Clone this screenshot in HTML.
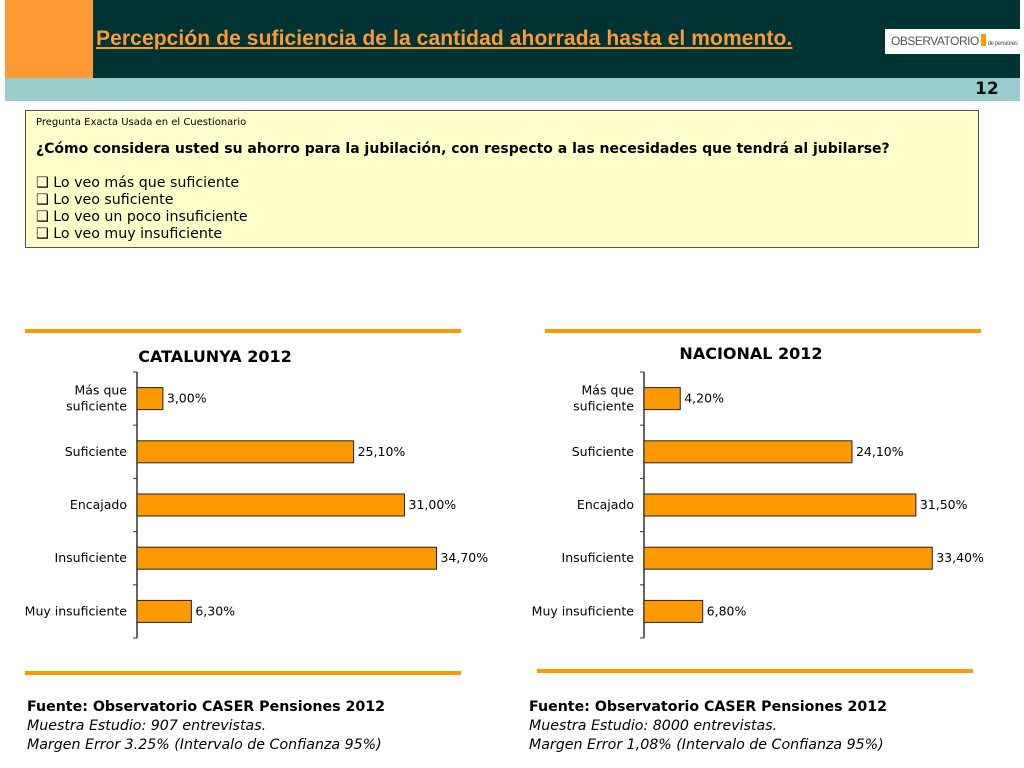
<!DOCTYPE html>
<html><head><meta charset="utf-8"><style>
body{margin:0;width:1024px;height:768px;background:#fff;position:relative;overflow:hidden;font-family:"DejaVu Sans","Liberation Sans",sans-serif}
.abs{position:absolute}
</style></head><body>
<div class="abs" style="left:5px;top:0;width:88px;height:78px;background:#ff9933"></div>
<div class="abs" style="left:93px;top:0;width:927px;height:78px;background:#003333"></div>
<div class="abs" style="left:5px;top:78px;width:1015px;height:23px;background:#99cccc"></div>
<div class="abs" style="left:96px;top:27px;color:#ff9933;font:bold 21px 'Liberation Sans',sans-serif;text-decoration:underline;white-space:nowrap;letter-spacing:0.1px">Percepción de suficiencia de la cantidad ahorrada hasta el momento.</div>
<div class="abs" style="left:885px;top:29px;width:135px;height:25px;background:#fff;font:12px 'Liberation Sans',sans-serif;color:#555;line-height:25px;padding-left:6px;box-sizing:border-box;letter-spacing:-0.5px">OBSERVATORIO<span style="display:inline-block;width:5px;height:12px;background:#f90;margin:0 2px;vertical-align:-1px"></span><span style="font-size:6px">de pensiones</span></div>
<div class="abs" style="left:975px;top:79px;font:bold 17px 'DejaVu Sans',sans-serif;color:#111">12</div>
<div class="abs" style="left:25px;top:110px;width:952px;height:136px;background:#ffffcc;border:1px solid #555;color:#000">
<div style="position:absolute;left:10px;top:6px;font-size:10px">Pregunta Exacta Usada en el Cuestionario</div>
<div style="position:absolute;left:10px;top:30px;font-size:14px;font-weight:bold;white-space:nowrap">¿Cómo considera usted su ahorro para la jubilación, con respecto a las necesidades que tendrá al jubilarse?</div>
<div style="position:absolute;left:10px;top:64px;font-size:14.2px;line-height:17px">❑ Lo veo más que suficiente<br>❑ Lo veo suficiente<br>❑ Lo veo un poco insuficiente<br>❑ Lo veo muy insuficiente</div>
</div>
<div class="abs" style="left:25px;top:329px;width:436px;height:4px;background:#f90"></div>
<div class="abs" style="left:25px;top:671px;width:436px;height:4px;background:#f90"></div>
<div class="abs" style="left:545px;top:329px;width:436px;height:4px;background:#f90"></div>
<div class="abs" style="left:537px;top:669px;width:436px;height:4px;background:#f90"></div>
<svg class="abs" id="charts" style="left:0;top:0" width="1024" height="768"></svg>
<div class="abs" style="left:27px;top:698px;font-size:14.2px;line-height:19px"><b>Fuente: Observatorio CASER Pensiones 2012</b><br><i>Muestra Estudio: 907 entrevistas.</i><br><i>Margen Error 3.25% (Intervalo de Confianza 95%)</i></div>
<div class="abs" style="left:529px;top:698px;font-size:14.2px;line-height:19px"><b>Fuente: Observatorio CASER Pensiones 2012</b><br><i>Muestra Estudio: 8000 entrevistas.</i><br><i>Margen Error 1,08% (Intervalo de Confianza 95%)</i></div>
<script>
const categories=["Más que|suficiente","Suficiente","Encajado","Insuficiente","Muy insuficiente"];
const catalunyaValues=[3.0,25.1,31.0,34.7,6.3];
const nacionalValues=[4.2,24.1,31.5,33.4,6.8];
const catalunyaLabels=["3,00%","25,10%","31,00%","34,70%","6,30%"];
const nacionalLabels=["4,20%","24,10%","31,50%","33,40%","6,80%"];
const NS="http://www.w3.org/2000/svg";
const svg=document.getElementById('charts');
function mk(t,a,p){const e=document.createElementNS(NS,t);for(const k in a)e.setAttribute(k,a[k]);(p||svg).appendChild(e);return e;}
function chart(x0,title,titleX,titleY,vals,labels,name){
  const g=mk('g',{});
  
  
  const top=372,bot=638,band=(bot-top)/categories.length,scale=8.63;
  const xs=v=>x0+v*scale;
  const t=mk('text',{x:titleX,y:titleY,'font-size':16,'font-weight':'bold','text-anchor':'middle','font-family':'DejaVu Sans,sans-serif'},g);t.textContent=title;
  
  
  const ax=mk('line',{x1:x0,x2:x0,y1:top,y2:bot,stroke:'#333','stroke-width':1.5},g);
  
  
  for(let i=0;i<=categories.length;i++){mk('line',{x1:x0-4,x2:x0,y1:top+i*band,y2:top+i*band,stroke:'#333'},g);}
  categories.forEach((c,i)=>{
    const cy=top+band*(i+0.5);
    const r=mk('rect',{x:x0,y:cy-11,width:xs(vals[i])-x0,height:22,fill:'#ff9900',stroke:'#222','stroke-width':1},g);
    
    
    const l=mk('text',{x:xs(vals[i])+4,y:cy+4,'font-size':12.5,'font-family':'DejaVu Sans,sans-serif'},g);l.textContent=labels[i];
    
    
    const parts=c.split('|');
    parts.forEach((p,j)=>{const tt=mk('text',{x:x0-10,y:cy+4+(j-(parts.length-1)/2)*16,'font-size':12.5,'text-anchor':'end','font-family':'DejaVu Sans,sans-serif'},g);tt.textContent=p;
      
      });
  });
}
chart(137,'CATALUNYA 2012',215,362,catalunyaValues,catalunyaLabels,'catalunya-chart');
chart(644,'NACIONAL 2012',751,359,nacionalValues,nacionalLabels,'nacional-chart');
</script>
</body></html>
